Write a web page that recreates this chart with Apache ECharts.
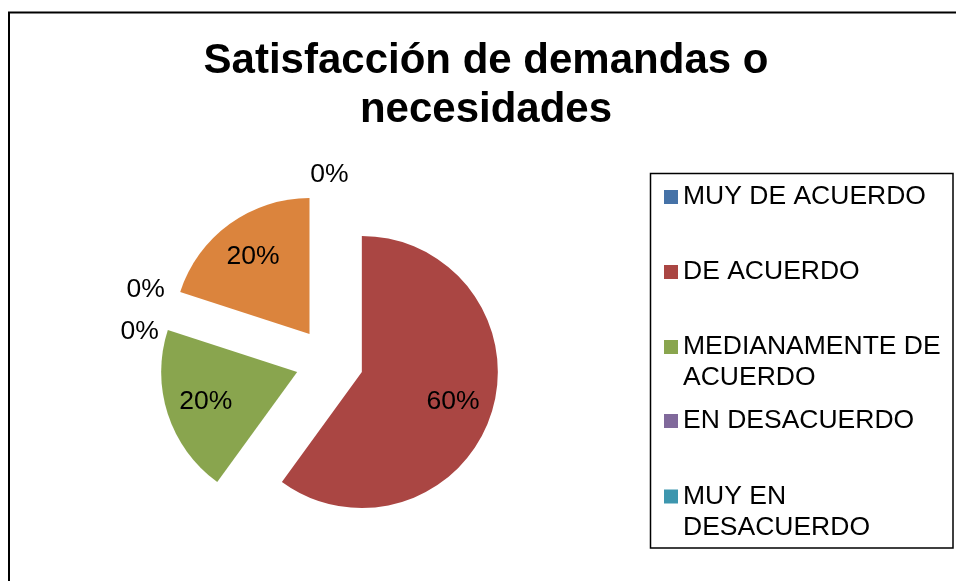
<!DOCTYPE html>
<html>
<head>
<meta charset="utf-8">
<script src="https://cdn.jsdelivr.net/npm/echarts@6/dist/echarts.min.js"></script>
<style>
html,body{margin:0;padding:0;background:#fff;}
#c{width:956px;height:581px;}
</style>
</head>
<body>
<div id="c"></div>
<script>
// ---- data ----
const categories = ['MUY DE ACUERDO', 'DE ACUERDO', 'MEDIANAMENTE DE ACUERDO', 'EN DESACUERDO', 'MUY EN DESACUERDO', ''];
const values = [0, 60, 20, 0, 0, 20];
const colors = ['#4572A7', '#AA4643', '#89A54E', '#80699B', '#3D96AE', '#DB843D'];
const legendNames = ['MUY DE ACUERDO', 'DE ACUERDO', 'MEDIANAMENTE DE ACUERDO', 'EN DESACUERDO', 'MUY EN DESACUERDO'];
const titleText = 'Satisfacción de demandas o\nnecesidades';

// ---- layout ----
const FONT = "'Liberation Sans', Arial, sans-serif";
const CENTER = [329.5, 361.5];
const R = 136;
const OFFSET = 34;
const LEGEND_FS = 26.5;
const LEGEND_LH = 31;
const LEGEND_TEXT_W = 262;
const ICON = 14;
const legendTops = [181.5, 256.5, 300.5, 405.5, 450];

const ctx = document.createElement('canvas').getContext('2d');
ctx.font = LEGEND_FS + 'px ' + FONT;
// wrap legend text like the reference; wrapped entries get a leading blank line
// so that the marker sits beside the first text line
function legendText(name) {
  const words = name.split(' ');
  const lines = [];
  let cur = '';
  words.forEach(w => {
    const test = cur ? cur + ' ' + w : w;
    if (cur && ctx.measureText(test).width > LEGEND_TEXT_W) { lines.push(cur); cur = w; }
    else cur = test;
  });
  lines.push(cur);
  return lines.length > 1 ? '\n' + lines.join('\n') : name;
}

function pct(p) { return Math.round(p.percent) + '%'; }

const baseSeries = {
  type: 'pie',
  center: CENTER,
  startAngle: 90,
  clockwise: true,
  selectedMode: 'multiple',
  selectedOffset: OFFSET,
  avoidLabelOverlap: false,
  animation: false,
  silent: true,
  emphasis: { disabled: true },
  labelLine: { show: false }
};

const labelStyle = { color: '#000', fontSize: 26.5, fontFamily: FONT, formatter: pct };

const option = {
  animation: false,
  backgroundColor: '#fff',
  title: {
    text: titleText,
    left: 486,
    top: 36.5,
    padding: 0,
    textAlign: 'center',
    textStyle: { fontSize: 42, fontWeight: 'bold', lineHeight: 49, color: '#000', fontFamily: FONT }
  },
  legend: legendNames.map((n, i) => ({
    data: [{ name: n, icon: 'rect' }],
    orient: 'vertical',
    left: 664,
    top: legendTops[i],
    padding: 0,
    itemWidth: ICON,
    itemHeight: ICON,
    selectedMode: false,
    formatter: legendText,
    textStyle: { fontSize: LEGEND_FS, lineHeight: LEGEND_LH, color: '#000', fontFamily: FONT }
  })),
  graphic: [
    { type: 'rect', silent: true, z: 100, shape: { x: 9, y: 12.5, width: 1000, height: 1000 },
      style: { fill: 'none', stroke: '#000', lineWidth: 2 } },
    { type: 'rect', silent: true, z: 100, shape: { x: 650.5, y: 173.5, width: 302.5, height: 374.5 },
      style: { fill: 'none', stroke: '#000', lineWidth: 1.5 } }
  ],
  series: [
    Object.assign({}, baseSeries, {
      name: 'main',
      radius: [0, R],
      label: { show: false },
      data: categories.map((n, i) => ({ name: n, value: values[i], selected: true, itemStyle: { color: colors[i] } }))
    }),
    Object.assign({}, baseSeries, {
      name: 'innerLabels',
      radius: [50, R],
      itemStyle: { color: 'rgba(0,0,0,0)' },
      label: Object.assign({ position: 'inside' }, labelStyle),
      data: categories.map((n, i) => ({ name: n, value: values[i], selected: true, label: { show: values[i] > 0 } }))
    }),
    Object.assign({}, baseSeries, {
      name: 'zeroLabels',
      radius: [140, 160],
      itemStyle: { color: 'rgba(0,0,0,0)' },
      label: Object.assign({ position: 'inside' }, labelStyle),
      labelLayout: function (p) {
        if (p.dataIndex === 3) return { dx: -12, dy: 28 };
        if (p.dataIndex === 4) return { dx: -6, dy: -14 };
        return {};
      },
      data: categories.map((n, i) => ({ name: n, value: values[i], selected: true, label: { show: values[i] === 0 } }))
    })
  ]
};

const chart = echarts.init(document.getElementById('c'), null, { renderer: 'canvas' });
chart.setOption(option);
</script>
</body>
</html>
